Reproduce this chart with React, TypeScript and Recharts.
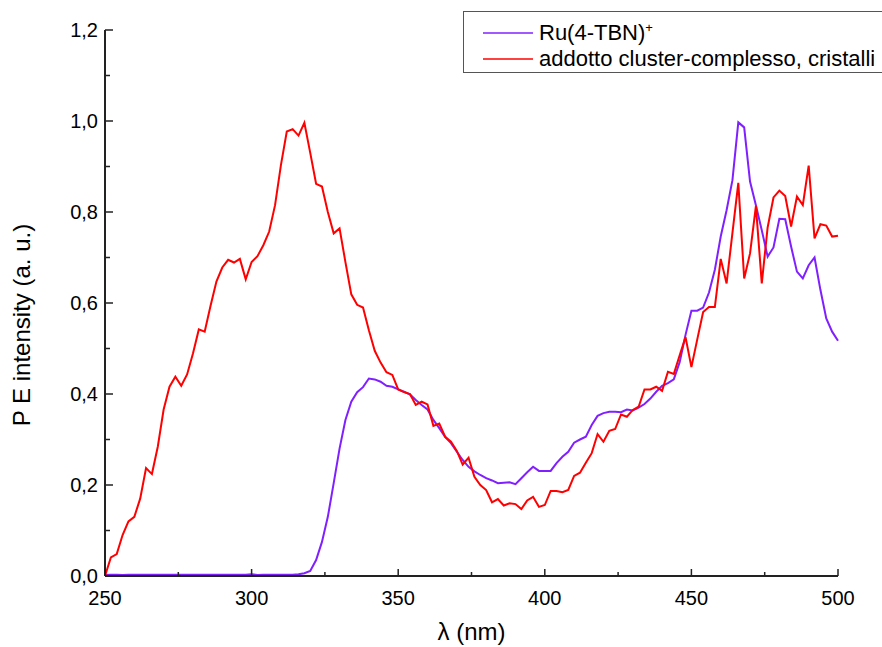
import React from 'react';
import { LineChart, Line, XAxis, YAxis, Legend } from 'recharts';

// wavelength, nm (2 nm step)
const wavelengths = [
  250, 252, 254, 256, 258, 260, 262, 264, 266, 268,
  270, 272, 274, 276, 278, 280, 282, 284, 286, 288,
  290, 292, 294, 296, 298, 300, 302, 304, 306, 308,
  310, 312, 314, 316, 318, 320, 322, 324, 326, 328,
  330, 332, 334, 336, 338, 340, 342, 344, 346, 348,
  350, 352, 354, 356, 358, 360, 362, 364, 366, 368,
  370, 372, 374, 376, 378, 380, 382, 384, 386, 388,
  390, 392, 394, 396, 398, 400, 402, 404, 406, 408,
  410, 412, 414, 416, 418, 420, 422, 424, 426, 428,
  430, 432, 434, 436, 438, 440, 442, 444, 446, 448,
  450, 452, 454, 456, 458, 460, 462, 464, 466, 468,
  470, 472, 474, 476, 478, 480, 482, 484, 486, 488,
  490, 492, 494, 496, 498, 500,
];

// Ru(4-TBN)+
const ruValues = [
  0.002, 0.003, 0.003, 0.002, 0.003, 0.003, 0.003, 0.003, 0.003, 0.003,
  0.003, 0.003, 0.003, 0.003, 0.003, 0.003, 0.003, 0.003, 0.003, 0.003,
  0.003, 0.003, 0.003, 0.003, 0.003, 0.004, 0.002, 0.003, 0.003, 0.003,
  0.003, 0.003, 0.003, 0.004, 0.006, 0.011, 0.035, 0.075, 0.13, 0.204,
  0.28, 0.343, 0.383, 0.404, 0.415, 0.434, 0.432, 0.427, 0.418, 0.416,
  0.41, 0.405, 0.399, 0.387, 0.376, 0.366, 0.343, 0.325, 0.306, 0.292,
  0.273, 0.255, 0.24, 0.23, 0.222, 0.215, 0.21, 0.204, 0.205, 0.206,
  0.202, 0.215, 0.228, 0.24, 0.231, 0.231, 0.231, 0.248, 0.262, 0.273,
  0.293, 0.3, 0.306, 0.332, 0.352, 0.358, 0.361, 0.361, 0.36, 0.366,
  0.364, 0.37, 0.378, 0.39, 0.405, 0.418, 0.424, 0.432, 0.47, 0.53,
  0.583, 0.583, 0.59, 0.623, 0.673, 0.746, 0.804, 0.87, 0.997, 0.986,
  0.867, 0.815, 0.76, 0.702, 0.722, 0.785, 0.784, 0.724, 0.669, 0.654,
  0.683, 0.7, 0.629, 0.566, 0.537, 0.517,
];

// addotto cluster-complesso, cristalli
const adductValues = [
  0, 0.041, 0.048, 0.09, 0.12, 0.13, 0.17, 0.237, 0.224, 0.284,
  0.366, 0.416, 0.438, 0.418, 0.443, 0.489, 0.542, 0.537, 0.594, 0.647,
  0.678, 0.695, 0.689, 0.697, 0.652, 0.69, 0.703, 0.727, 0.757, 0.815,
  0.903, 0.977, 0.982, 0.968, 0.996, 0.93, 0.862, 0.856, 0.8, 0.753,
  0.764, 0.69, 0.619, 0.596, 0.59, 0.54, 0.495, 0.469, 0.448, 0.442,
  0.41, 0.404, 0.4, 0.376, 0.383, 0.377, 0.33, 0.335, 0.306, 0.295,
  0.275, 0.245, 0.26, 0.218, 0.2, 0.189, 0.162, 0.169, 0.155, 0.16,
  0.158, 0.147, 0.166, 0.174, 0.152, 0.156, 0.187, 0.187, 0.184, 0.189,
  0.22, 0.227, 0.249, 0.27, 0.312, 0.295, 0.319, 0.323, 0.355, 0.35,
  0.365, 0.372, 0.41, 0.41, 0.416, 0.407, 0.449, 0.444, 0.485, 0.525,
  0.459, 0.52, 0.58, 0.591, 0.591, 0.697, 0.643, 0.754, 0.864, 0.654,
  0.709, 0.813, 0.643, 0.766, 0.832, 0.847, 0.835, 0.768, 0.834, 0.815,
  0.902, 0.742, 0.773, 0.77, 0.746, 0.748,
];

const xTicks = [250, 275, 300, 325, 350, 375, 400, 425, 450, 475, 500];
const yTicks = [0, 0.1, 0.2, 0.3, 0.4, 0.5, 0.6, 0.7, 0.8, 0.9, 1.0, 1.1, 1.2];

const seriesNames = ['Ru(4-TBN)', 'addotto cluster-complesso, cristalli'];

const data = wavelengths.map((w, i) => ({ w, ru: ruValues[i], add: adductValues[i] }));

const FONT = '"Liberation Sans", Arial, sans-serif';
const AXIS = '#222';
const PURPLE = '#8020ff';
const RED = '#ff0000';

function XTick({ x, y, payload }: any) {
  const major = payload.value % 50 === 0;
  return (
    <g>
      <line x1={x} x2={x} y1={y} y2={y - (major ? 7 : 4)} stroke={AXIS} strokeWidth={1.5} />
      {major && (
        <text x={x} y={y + 29} textAnchor="middle" fontSize={20} fontFamily={FONT} fill="#000">
          {payload.value}
        </text>
      )}
    </g>
  );
}

function YTick({ x, y, payload }: any) {
  const v = payload.value;
  const major = Math.round(v * 10) % 2 === 0;
  return (
    <g>
      <line x1={x} x2={x + (major ? 8 : 5)} y1={y} y2={y} stroke={AXIS} strokeWidth={1.5} />
      {major && (
        <text x={x - 7} y={y} dy={7} textAnchor="end" fontSize={20} fontFamily={FONT} fill="#000">
          {v.toFixed(1).replace('.', ',')}
        </text>
      )}
    </g>
  );
}

function LegendBox() {
  const row = (color: string, top: number, label: React.ReactNode) => (
    <div style={{ position: 'absolute', left: 0, top, height: 26, width: 440 }}>
      <svg width={70} height={26} style={{ position: 'absolute', left: 0, top: 0 }}>
        <line x1={19} x2={69} y1={13} y2={13} stroke={color} strokeWidth={1.5} />
      </svg>
      <span style={{ position: 'absolute', left: 75, top: 0, lineHeight: '26px', fontSize: 22, fontFamily: FONT, color: '#000', whiteSpace: 'nowrap' }}>
        {label}
      </span>
    </div>
  );
  return (
    <div style={{ position: 'relative', width: 440, height: 62, border: '1.5px solid #555', background: '#fff', boxSizing: 'border-box' }}>
      {row(PURPLE, 8, <>{seriesNames[0]}<sup style={{ fontSize: 13, verticalAlign: 'top', lineHeight: '16px' }}>+</sup></>)}
      {row(RED, 34, seriesNames[1])}
    </div>
  );
}

export default function App() {
  return (
    <div style={{ position: 'absolute', left: 0, top: 0, width: 882, height: 647, overflow: 'hidden', background: '#fff' }}>
      <LineChart width={882} height={647} data={data} margin={{ top: 30, right: 44, bottom: 0, left: 0 }}>
        <XAxis
          dataKey="w"
          type="number"
          domain={[250, 500]}
          ticks={xTicks}
          interval={0}
          height={71}
          tickSize={0}
          tickMargin={0}
          tick={<XTick />}
          axisLine={{ stroke: AXIS, strokeWidth: 2 }}
          label={{ value: 'λ (nm)', position: 'insideBottom', offset: 7, fontSize: 24, fontFamily: FONT, fill: '#000' }}
        />
        <XAxis xAxisId="top" dataKey="w" type="number" domain={[250, 500]} orientation="top" height={0} tick={false} tickLine={false} axisLine={{ stroke: '#333', strokeWidth: 1.5 }} />
        <YAxis
          type="number"
          domain={[0, 1.2]}
          ticks={yTicks}
          interval={0}
          width={105}
          tickSize={0}
          tickMargin={0}
          tick={<YTick />}
          axisLine={{ stroke: AXIS, strokeWidth: 2 }}
          label={{ value: 'P E intensity (a. u.)', angle: -90, position: 'center', dx: -31, dy: 22, fontSize: 24, fontFamily: FONT, fill: '#000' }}
        />
        <YAxis yAxisId="r" orientation="right" domain={[0, 1.2]} width={0} tick={false} tickLine={false} axisLine={{ stroke: '#333', strokeWidth: 1.5 }} />
        <Legend
          layout="vertical"
          align="center"
          verticalAlign="middle"
          wrapperStyle={{ position: 'absolute', left: 463, top: 11, width: 440, height: 62 }}
          content={() => <LegendBox />}
        />
        <Line dataKey="ru" name={seriesNames[0]} stroke={PURPLE} strokeWidth={2} dot={false} isAnimationActive={false} />
        <Line dataKey="add" name={seriesNames[1]} stroke={RED} strokeWidth={2} dot={false} isAnimationActive={false} />
      </LineChart>
    </div>
  );
}
